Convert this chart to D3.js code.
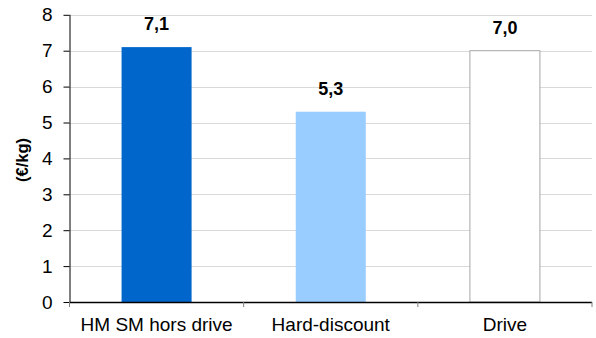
<!DOCTYPE html>
<html><head><meta charset="utf-8">
<script src="https://cdn.jsdelivr.net/npm/d3@7"></script>
<style>body{margin:0;background:#fff}svg{display:block;font-family:Arial,"Liberation Sans",sans-serif}</style>
</head><body>
<svg id="c" width="596" height="338"></svg>
<script>
const categories = ["HM SM hors drive", "Hard-discount", "Drive"];
const values = [7.1, 5.3, 7.0];
const labels = ["7,1", "5,3", "7,0"];
const fills = ["#0066CC", "#99CCFF", "#FFFFFF"];
const strokes = ["none", "none", "#A6A6A6"];
const yTicks = [0,1,2,3,4,5,6,7,8];
const yTitle = "(€/kg)";

(function () {
const svg = d3.select("#c");
const mLeft = 69.5, mRight = 592, mTop = 14.8, mBottom = 302;
const x = d3.scaleBand().domain(categories).range([mLeft, mRight]).paddingInner(0).paddingOuter(0);
const y = d3.scaleLinear().domain([0, 8]).range([mBottom, mTop]);

// gridlines
svg.append("g").selectAll("line").data(yTicks.filter(d => d > 0)).join("line")
  .attr("x1", mLeft).attr("x2", mRight)
  .attr("y1", d => Math.round(y(d)) + 0.5).attr("y2", d => Math.round(y(d)) + 0.5)
  .attr("stroke", "#D9D9D9").attr("stroke-width", 1);

// bars
const bw = x.bandwidth() * 0.402;
svg.append("g").selectAll("rect").data(values).join("rect")
  .attr("x", (d, i) => x(categories[i]) + (x.bandwidth() - bw) / 2)
  .attr("width", bw)
  .attr("y", d => y(d))
  .attr("height", d => y(0) - y(d))
  .attr("fill", (d, i) => fills[i])
  .attr("stroke", (d, i) => strokes[i])
  .attr("stroke-width", 1);

// y axis
const ya = svg.append("g").attr("transform", `translate(${mLeft},0)`)
  .call(d3.axisLeft(y).tickValues(yTicks).tickSize(6).tickPadding(11).tickFormat(d3.format("d")));
ya.select(".domain").attr("stroke", "#000").attr("d", `M0.5,${mTop}V${mBottom}`);
ya.selectAll(".tick line").attr("stroke", "#000");
ya.selectAll("text").attr("font-size", 19).attr("fill", "#000").attr("font-family", "Arial, 'Liberation Sans', sans-serif");

// x axis
const xa = svg.append("g").attr("transform", `translate(0,${mBottom})`)
  .call(d3.axisBottom(x).tickSize(0).tickPadding(16));
xa.select(".domain").attr("stroke", "#000").attr("stroke-width", 1.5).attr("d", `M${mLeft},0.5H${mRight}`);
xa.selectAll("text").attr("font-size", 19).attr("fill", "#000").attr("font-family", "Arial, 'Liberation Sans', sans-serif");
// boundary ticks
const bounds = categories.map(c => x(c)).concat([mRight]);
svg.append("g").selectAll("line").data(bounds).join("line")
  .attr("x1", d => d).attr("x2", d => d)
  .attr("y1", mBottom).attr("y2", mBottom + 5)
  .attr("stroke", "#808080").attr("stroke-width", 1);

// value labels
svg.append("g").selectAll("text").data(values).join("text")
  .attr("x", (d, i) => x(categories[i]) + x.bandwidth() / 2)
  .attr("y", d => y(d) - 17)
  .attr("text-anchor", "middle")
  .attr("font-weight", "bold").attr("font-size", 18).attr("fill", "#000")
  .text((d, i) => labels[i]);

// y title
svg.append("text")
  .attr("transform", "translate(28,160) rotate(-90)")
  .attr("text-anchor", "middle")
  .attr("font-weight", "bold").attr("font-size", 16.5).attr("fill", "#000")
  .text(yTitle);
})();
</script>
</body></html>
